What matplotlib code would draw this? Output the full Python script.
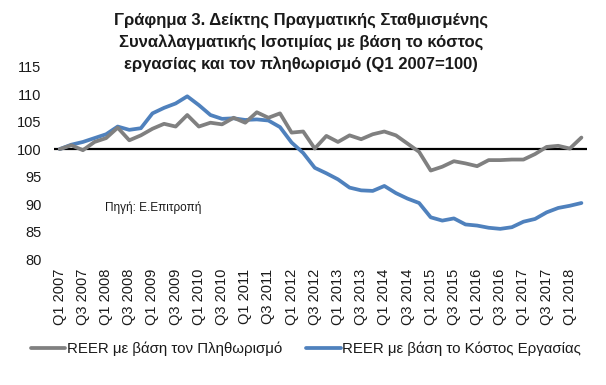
import matplotlib
matplotlib.use("Agg")
import matplotlib.pyplot as plt

plt.rcParams["font.family"] = ["Liberation Sans", "DejaVu Sans"]

# quarterly index values, Q1 2007 = 100
quarters = [f"Q{q} {y}" for y in range(2007, 2019) for q in (1, 2, 3, 4)][:46]
reer_cpi = [100.0, 100.7, 99.8, 101.3, 102.0, 103.9, 101.6, 102.5, 103.7, 104.6,
            104.1, 106.2, 104.1, 104.8, 104.5, 105.7, 104.8, 106.7, 105.7, 106.5,
            103.0, 103.2, 100.1, 102.4, 101.3, 102.5, 101.8, 102.7, 103.2, 102.5,
            101.0, 99.5, 96.1, 96.8, 97.8, 97.4, 96.9, 98.0, 98.0, 98.1,
            98.1, 99.1, 100.4, 100.6, 100.1, 102.1]
reer_ulc = [100.0, 100.8, 101.3, 102.0, 102.7, 104.1, 103.5, 103.8, 106.5, 107.5,
            108.3, 109.6, 108.0, 106.2, 105.5, 105.6, 105.3, 105.4, 105.2, 104.0,
            101.2, 99.3, 96.6, 95.6, 94.5, 93.0, 92.5, 92.4, 93.3, 92.0,
            91.0, 90.2, 87.6, 87.0, 87.4, 86.3, 86.1, 85.7, 85.5, 85.8,
            86.8, 87.3, 88.5, 89.3, 89.7, 90.2]
yticks = [80, 85, 90, 95, 100, 105, 110, 115]

GRAY = "#808080"
BLUE = "#4F81BD"
TEXT = "#1a1a1a"

fig = plt.figure(figsize=(6.06, 3.85), dpi=100)
ax = fig.add_axes([0.089, 0.327, 0.88, 0.500])

x = list(range(len(quarters)))
ax.axhline(100, color="black", lw=1.6, zorder=1)
ax.plot(x, reer_ulc, color=BLUE, lw=2.7, solid_capstyle="round",
        solid_joinstyle="round", zorder=2, label="REER με βάση το Κόστος Εργασίας")
ax.plot(x, reer_cpi, color=GRAY, lw=2.7, solid_capstyle="round",
        solid_joinstyle="round", zorder=3, label="REER με βάση τον Πληθωρισμό")

ax.set_xlim(-0.5, len(quarters) - 0.5)
ax.set_ylim(80, 115)
ax.set_yticks(yticks)
ax.set_yticklabels([str(v) for v in yticks], fontsize=10.5, color=TEXT)
ax.set_xticks(x[::2])
ax.set_xticklabels(quarters[::2], rotation=90, fontsize=10.5, color=TEXT)
ax.tick_params(axis="both", length=0)
ax.tick_params(axis="y", pad=9)
ax.tick_params(axis="x", pad=7)
for sp in ax.spines.values():
    sp.set_visible(False)

ax.text(3.9, 89.3, "Πηγή: Ε.Επιτροπή", fontsize=8.5, color=TEXT, ha="left", va="center")

fig.text(0.497, 0.968, "Γράφημα 3. Δείκτης Πραγματικής Σταθμισμένης\n"
         "Συναλλαγματικής Ισοτιμίας με βάση το κόστος\n"
         "εργασίας και τον πληθωρισμό (Q1 2007=100)",
         ha="center", va="top", fontsize=12, fontweight="bold", color=TEXT,
         linespacing=1.5)

handles, labels = ax.get_legend_handles_labels()
fig.legend(handles[::-1], labels[::-1], loc="center", bbox_to_anchor=(0.505, 0.094),
           ncol=2, frameon=False, fontsize=10.8, handlelength=2.3,
           handletextpad=0.1, columnspacing=1.6, labelcolor=TEXT)

fig.savefig("out.png", dpi=100)
